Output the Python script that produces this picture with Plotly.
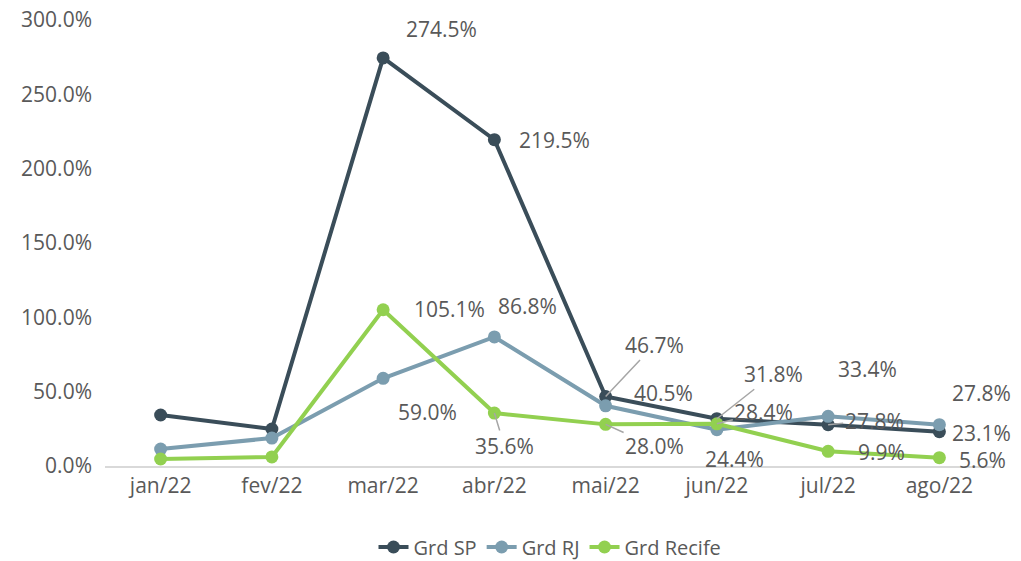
import plotly.graph_objects as go

months = ["jan/22", "fev/22", "mar/22", "abr/22", "mai/22", "jun/22", "jul/22", "ago/22"]
grd_sp = [34.3, 24.9, 274.5, 219.5, 46.7, 31.8, 27.8, 23.1]
grd_rj = [11.4, 18.8, 59.0, 86.8, 40.5, 24.4, 33.4, 27.8]
grd_recife = [4.7, 6.1, 105.1, 35.6, 28.0, 28.4, 9.9, 5.6]

series = [
    ("Grd SP", grd_sp, "#3A4D59"),
    ("Grd RJ", grd_rj, "#7B9DAF"),
    ("Grd Recife", grd_recife, "#92D050"),
]

FONT_SIZE = 21
W, H = 1021, 561

fig = go.Figure()
for name, vals, col in series:
    fig.add_trace(go.Scatter(
        x=months, y=vals, name=name, mode="lines+markers",
        line=dict(color=col, width=4), marker=dict(color=col, size=13),
    ))

# label offsets (pixels) and whether a leader line is drawn, from mar/22 onwards
label_cfg = {
    "Grd SP": {2: (58, -29, False), 3: (60, 0, False), 4: (49, -52, True),
               5: (57, -45, True), 6: (46, -4, True), 7: (42, 1, False)},
    "Grd RJ": {2: (44, 34, False), 3: (33, -31, False), 4: (58, -13, False),
               5: (18, 29, False), 6: (39, -47, False), 7: (42, -32, False)},
    "Grd Recife": {2: (66, -1, False), 3: (10, 33, True), 4: (49, 22, True),
                   5: (47, -12, True), 6: (53, 1, False), 7: (43, 2, False)},
}

for name, vals, col in series:
    for i, (dx, dy, leader) in label_cfg[name].items():
        fig.add_annotation(
            x=months[i], y=vals[i], text=f"{vals[i]:.1f}%",
            showarrow=True, ax=dx, ay=dy, arrowhead=0, arrowwidth=1.5,
            arrowcolor="#A6A6A6" if leader else "rgba(0,0,0,0)",
            font=dict(size=FONT_SIZE, color="#595959"),
        )

fig.update_layout(
    width=W, height=H,
    margin=dict(l=105, r=26, t=20, b=95, autoexpand=False),
    plot_bgcolor="white", paper_bgcolor="white",
    font=dict(family="Open Sans, Calibri, sans-serif", size=FONT_SIZE, color="#595959"),
    showlegend=True,
    legend=dict(orientation="h", x=0.5, xanchor="center", yref="container",
                y=14 / H, yanchor="middle", font=dict(size=20, color="#595959")),
    xaxis=dict(range=[-0.5, 7.5], showgrid=False, showline=True, linecolor="#D9D9D9",
               linewidth=1.5, ticks="", automargin=False,
               tickfont=dict(size=FONT_SIZE, color="#595959")),
    yaxis=dict(range=[0, 300], dtick=50, tickformat=".1f", ticksuffix="%",
               showgrid=False, zeroline=False, showline=False, automargin=False,
               ticklabelstandoff=12, ticklabeloverflow="allow",
               tickfont=dict(size=FONT_SIZE, color="#595959")),
)

fig.write_html("out.html", config={"displayModeBar": False},
               post_script="document.body.style.margin='0';")
